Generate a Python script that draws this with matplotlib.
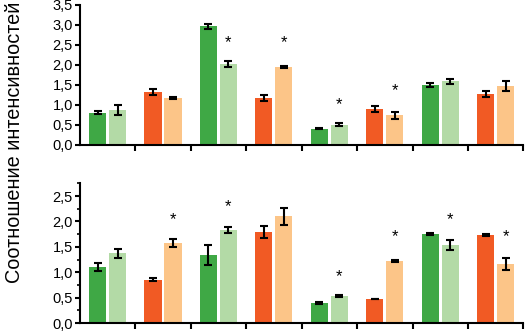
import numpy as np
import matplotlib
matplotlib.use('Agg')
import matplotlib.pyplot as plt
from matplotlib.ticker import FuncFormatter, MultipleLocator

plt.rcParams['font.family'] = ['Liberation Sans Narrow', 'Liberation Sans', 'DejaVu Sans']

# данные: по 8 групп, в каждой тёмный и светлый столбик
group_kind = ['g', 'o', 'g', 'o', 'g', 'o', 'g', 'o']

top_dark = [0.81, 1.33, 2.97, 1.18, 0.41, 0.90, 1.51, 1.28]
top_dark_err = [0.03, 0.07, 0.06, 0.08, 0.02, 0.08, 0.05, 0.08]
top_light = [0.87, 1.18, 2.03, 1.95, 0.51, 0.74, 1.59, 1.47]
top_light_err = [0.12, 0.02, 0.08, 0.03, 0.04, 0.08, 0.07, 0.13]
top_star = [None, None, 2.55, 2.55, 1.0, 1.35, None, None]

bot_dark = [1.11, 0.85, 1.34, 1.80, 0.39, 0.47, 1.76, 1.74]
bot_dark_err = [0.08, 0.03, 0.20, 0.12, 0.02, 0.0, 0.02, 0.02]
bot_light = [1.37, 1.58, 1.83, 2.10, 0.54, 1.23, 1.53, 1.17]
bot_light_err = [0.08, 0.08, 0.06, 0.17, 0.02, 0.02, 0.10, 0.12]
bot_star = [None, 2.03, 2.30, None, 0.92, 1.70, 2.03, 1.70]

colors = {'g': ('#3fa845', '#b3daa6'), 'o': ('#f15a24', '#fcc588')}


def draw_panel(ax, dark, dark_err, light, light_err, stars, ymax, minor):
    x = np.arange(len(dark)) + 0.5
    off, w = 0.18, 0.31
    dc = [colors[k][0] for k in group_kind]
    lc = [colors[k][1] for k in group_kind]
    ax.bar(x - off, dark, width=w, color=dc, zorder=2)
    ax.bar(x + off, light, width=w, color=lc, zorder=2)
    ekw = dict(fmt='none', ecolor='black', elinewidth=1.5, capsize=2.6, capthick=1.5, zorder=3)
    ax.errorbar(x - off, dark, yerr=dark_err, **ekw)
    ax.errorbar(x + off, light, yerr=light_err, **ekw)
    for xi, s in zip(x, stars):
        if s is not None:
            ax.text(xi + off, s, '*', ha='center', va='center', fontsize=12)
    ax.set_xlim(0, 8)
    ax.set_ylim(0, ymax)
    ax.set_xticks(np.arange(1, 9))
    ax.set_xticklabels([])
    ax.yaxis.set_major_locator(MultipleLocator(0.5))
    ax.yaxis.set_major_formatter(FuncFormatter(lambda v, p: f'{v:.1f}'.replace('.', ',')))
    if minor:
        ax.yaxis.set_minor_locator(MultipleLocator(0.25))
        ax.tick_params(axis='y', which='minor', length=2.5, width=1.2)
    for s in ['top', 'right']:
        ax.spines[s].set_visible(False)
    for s in ['left', 'bottom']:
        ax.spines[s].set_linewidth(1.5)
    ax.tick_params(axis='y', which='major', length=3.5, width=1.5, labelsize=10.5, pad=1.5)
    ax.tick_params(axis='x', length=4, width=1.5)


fig = plt.figure(figsize=(5.25, 3.31), dpi=100)
ax1 = fig.add_axes([0.152, 0.562, 0.845, 0.423])
ax2 = fig.add_axes([0.152, 0.024, 0.845, 0.422])

draw_panel(ax1, top_dark, top_dark_err, top_light, top_light_err, top_star, 3.5, False)
draw_panel(ax2, bot_dark, bot_dark_err, bot_light, bot_light_err, bot_star, 2.75, True)

fig.text(0.027, 0.57, 'Соотношение интенсивностей', rotation=90, ha='center', va='center', fontsize=14.3)

fig.savefig('out.png', dpi=100)
